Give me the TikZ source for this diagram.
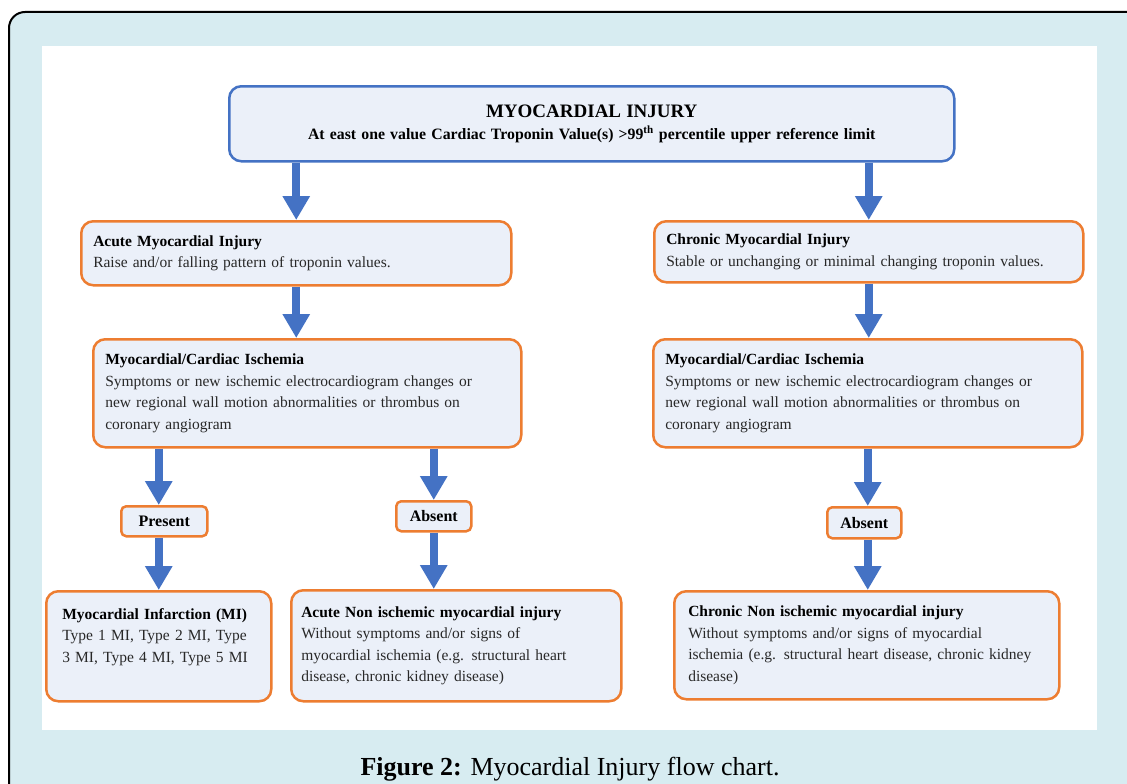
\documentclass[tikz,border=0pt]{standalone}
\usepackage{fontspec}
\setmainfont{Liberation Serif}
\usetikzlibrary{arrows.meta}
\usetikzlibrary{positioning}

\definecolor{framebg}{RGB}{215,236,241}
\definecolor{boxfill}{RGB}{235,240,249}
\definecolor{boxblue}{RGB}{68,114,196}
\definecolor{boxorange}{RGB}{237,125,49}
\definecolor{bodytext}{RGB}{40,40,40}

\tikzset{
  box/.style={draw=boxorange, line width=2.5pt, fill=boxfill, rounded corners=12pt,
    anchor=north west, align=left, inner xsep=12pt, inner ysep=0pt,
    font=\fontsize{15.5}{21.5}\selectfont, text=bodytext},
  topbox/.style={box, draw=boxblue, align=center, text=black},
  tagbox/.style={box, rounded corners=5pt, align=center, inner xsep=0pt,
    font=\fontsize{16}{18}\selectfont\bfseries, text=black},
  flow/.style={draw=boxblue, line width=8pt, -{Triangle[width=26pt,length=24pt]}}
}

\begin{document}
\begin{tikzpicture}[x=1pt,y=-1pt]
  \useasboundingbox (0,0) rectangle (1127,784);
  \clip (0,0) rectangle (1127,784);
  % page frame
  \draw[line width=2pt, fill=framebg, rounded corners=16pt] (9,12) rectangle (1160,820);
  \fill[white] (42,46) rectangle (1097,730);

  % top box
  \node[topbox, text width=701pt, minimum height=75pt] (injury) at (228,85)
    {{\fontsize{19}{24}\selectfont\bfseries MYOCARDIAL INJURY}\\
     {\fontsize{15.8}{19}\selectfont\bfseries At east one value Cardiac Troponin Value(s) >99\textsuperscript{th} percentile upper reference limit}};

  % acute branch
  \node[box, text width=406pt, minimum height=64pt] (acute) at (80,220)
    {\textbf{\color{black}Acute Myocardial Injury}\\
     Raise and/or falling pattern of troponin values.};
  \node[box, text width=404pt, minimum height=108pt] (ischL) at (92,338)
    {\textbf{\color{black}Myocardial/Cardiac Ischemia}\\
     Symptoms or new ischemic electrocardiogram changes or\\
     new regional wall motion abnormalities or thrombus on\\
     coronary angiogram};
  \node[tagbox, minimum width=86pt, minimum height=30pt] (present) at (120,505) {Present};
  \node[tagbox, minimum width=75pt, minimum height=30pt] (absentL) at (395,500) {Absent};
  \node[box, inner xsep=16pt, text width=193pt, minimum height=110pt] (mi) at (45,590)
    {\textbf{\color{black}Myocardial Infarction (MI)}\\
     Type 1 MI, Type 2 MI, Type\\
     3 MI, Type 4 MI, Type 5 MI\\ \mbox{}};
  \node[box, inner xsep=10pt, text width=310pt, minimum height=111pt] (acuteNI) at (290,589)
    {\textbf{\color{black}Acute Non ischemic myocardial injury}\\
     Without symptoms and/or signs of\\
     myocardial ischemia (e.g. structural heart\\
     disease, chronic kidney disease)};

  % chronic branch
  \node[box, text width=405pt, minimum height=61pt] (chronic) at (653,220)
    {\textbf{\color{black}Chronic Myocardial Injury}\\
     Stable or unchanging or minimal changing troponin values.};
  \node[box, text width=405pt, minimum height=108pt] (ischR) at (652,338)
    {\textbf{\color{black}Myocardial/Cardiac Ischemia}\\
     Symptoms or new ischemic electrocardiogram changes or\\
     new regional wall motion abnormalities or thrombus on\\
     coronary angiogram};
  \node[tagbox, minimum width=74pt, minimum height=31pt] (absentR) at (826,506) {Absent};
  \node[box, inner xsep=14pt, text width=357pt, minimum height=108pt] (chronicNI) at (673,590)
    {\textbf{\color{black}Chronic Non ischemic myocardial injury}\\
     Without symptoms and/or signs of myocardial\\
     ischemia (e.g. structural heart disease, chronic kidney\\
     disease)};

  % arrows
  \draw[flow] (acute.north |- injury.south) -- (acute.north);
  \draw[flow] (chronic.north |- injury.south) -- (chronic.north);
  \draw[flow] (acute.south) -- (acute.south |- ischL.north);
  \draw[flow] (chronic.south) -- (chronic.south |- ischR.north);
  \draw[flow] (mi.north |- ischL.south) -- (mi.north |- present.north);
  \draw[flow] (mi.north |- present.south) -- (mi.north);
  \draw[flow] (absentL.north |- ischL.south) -- (absentL.north);
  \draw[flow] (absentL.south) -- (absentL.south |- acuteNI.north);
  \draw[flow] (ischR.south) -- (ischR.south |- absentR.north);
  \draw[flow] (ischR.south |- absentR.south) -- (ischR.south |- chronicNI.north);

  % caption
  \node[anchor=base, font=\fontsize{26}{30}\selectfont] (caption) at (570,775)
    {\textbf{Figure 2:} Myocardial Injury flow chart.};
\end{tikzpicture}
\end{document}
